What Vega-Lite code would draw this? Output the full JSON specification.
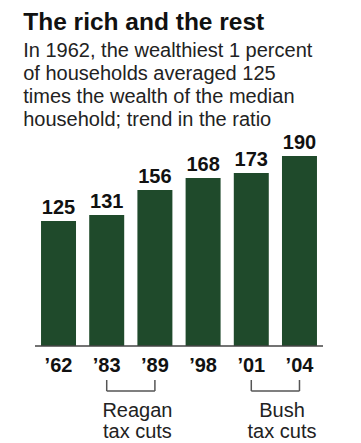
{
  "$schema": "https://vega.github.io/schema/vega-lite/v6.json",
  "width": 288,
  "height": 303,
  "autosize": {"type": "none"},
  "padding": {"left": 35, "top": 140, "right": 38, "bottom": 0},
  "background": "white",
  "config": {"view": {"stroke": null}, "font": "Liberation Sans"},
  "title": {
    "text": "The rich and the rest",
    "subtitle": ["In 1962, the wealthiest 1 percent", "of households averaged 125", "times the wealth of the median", "household; trend in the ratio"],
    "anchor": "start",
    "dx": -11,
    "offset": 2,
    "font": "Liberation Sans",
    "fontSize": 24.5,
    "fontWeight": "bold",
    "color": "#111111",
    "subtitleFont": "Liberation Sans",
    "subtitleFontSize": 20,
    "subtitleColor": "#222222",
    "subtitleLineHeight": 23,
    "subtitlePadding": 6
  },
  "datasets": {
    "bars": [
      {"year": "’62", "ratio": 125},
      {"year": "’83", "ratio": 131},
      {"year": "’89", "ratio": 156},
      {"year": "’98", "ratio": 168},
      {"year": "’01", "ratio": 173},
      {"year": "’04", "ratio": 190}
    ],
    "brackets": [
      {"period": "Reagan", "start": "’83", "end": "’89", "label": ["Reagan", "tax cuts"]},
      {"period": "Bush", "start": "’01", "end": "’04", "label": ["Bush", "tax cuts"]}
    ]
  },
  "layer": [
    {
      "data": {"name": "bars"},
      "mark": {"type": "bar", "color": "#1f4a2b"},
      "encoding": {
        "x": {"field": "year", "type": "nominal", "axis": null, "sort": null,
              "scale": {"domain": ["’62", "’83", "’89", "’98", "’01", "’04"], "paddingInner": 0.274, "paddingOuter": 0.125}},
        "y": {"field": "ratio", "type": "quantitative", "axis": null,
              "scale": {"domain": [-97, 206], "nice": false, "zero": false}}
      }
    },
    {
      "data": {"name": "bars"},
      "mark": {"type": "text", "fontSize": 20, "fontWeight": "bold", "baseline": "alphabetic", "dy": -7, "color": "#111111"},
      "encoding": {
        "x": {"field": "year", "type": "nominal"},
        "y": {"field": "ratio", "type": "quantitative"},
        "text": {"field": "ratio", "type": "quantitative"}
      }
    },
    {
      "data": {"name": "bars"},
      "mark": {"type": "text", "fontSize": 20, "fontWeight": "bold", "baseline": "alphabetic", "color": "#111111"},
      "encoding": {
        "x": {"field": "year", "type": "nominal"},
        "y": {"datum": -26},
        "text": {"field": "year", "type": "nominal"}
      }
    },
    {
      "data": {"values": [{}]},
      "mark": {"type": "rule", "color": "#444444", "strokeWidth": 1.5},
      "encoding": {"y": {"datum": 0}}
    },
    {
      "data": {"name": "brackets"},
      "mark": {"type": "rule", "color": "#555555", "strokeWidth": 1.5},
      "encoding": {
        "x": {"field": "start", "type": "nominal"},
        "x2": {"field": "end"},
        "y": {"datum": -45}
      }
    },
    {
      "data": {"name": "brackets"},
      "mark": {"type": "rule", "color": "#555555", "strokeWidth": 1.5},
      "encoding": {
        "x": {"field": "start", "type": "nominal"},
        "y": {"datum": -34},
        "y2": {"datum": -45}
      }
    },
    {
      "data": {"name": "brackets"},
      "mark": {"type": "rule", "color": "#555555", "strokeWidth": 1.5},
      "encoding": {
        "x": {"field": "end", "type": "nominal"},
        "y": {"datum": -34},
        "y2": {"datum": -45}
      }
    },
    {
      "data": {"name": "brackets"},
      "mark": {"type": "text", "fontSize": 20, "baseline": "alphabetic", "lineHeight": 21, "color": "#222222"},
      "encoding": {
        "x": {"field": "end", "type": "nominal", "bandPosition": 0},
        "y": {"datum": -71},
        "text": {"field": "label"}
      }
    }
  ]
}
